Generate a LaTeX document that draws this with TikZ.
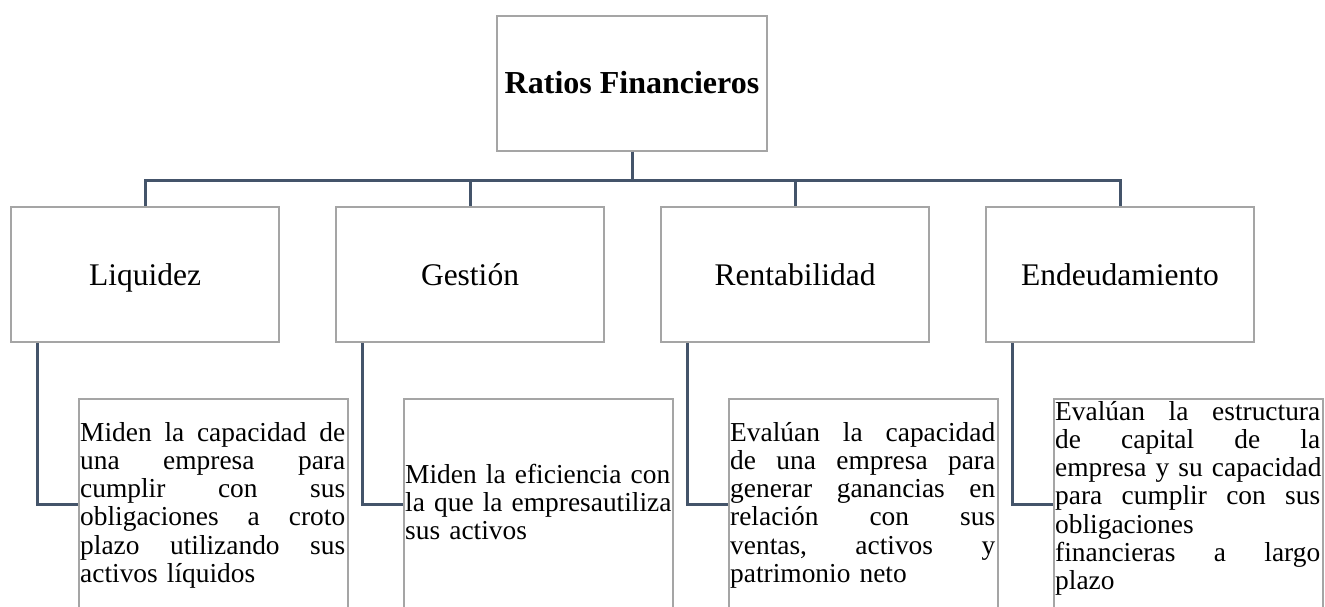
\documentclass[tikz,border=0pt]{standalone}
\usepackage{fontspec}
\setmainfont{Liberation Serif}
\definecolor{conncol}{HTML}{44546A}
\definecolor{boxcol}{HTML}{A5A5A5}
\newcommand{\Jl}[1]{\hbox to 265pt{#1}\par}
\newcommand{\Nl}[1]{\hbox{#1}\par}
\newcommand{\G}{\hfill\ }
\tikzset{
  box/.style={draw=boxcol, line width=1.6pt, fill=white, inner sep=0pt},
  topbox/.style={box, minimum width=270pt, minimum height=135pt, text height=26pt, text depth=7pt, font=\fontsize{32}{36}\selectfont\bfseries},
  midbox/.style={box, minimum width=268pt, minimum height=135pt, text height=28pt, text depth=7pt, font=\fontsize{31.5}{36}\selectfont},
  lowbox/.style={box, anchor=north west, minimum width=269pt, minimum height=260pt},
  desc/.style={anchor=base west, inner sep=0pt, text width=265pt, font=\fontsize{27.4}{28.3}\selectfont},
  conn/.style={draw=conncol, line width=3pt}
}
\begin{document}
\begin{tikzpicture}[x=1pt,y=-1pt]
\clip (0,0) rectangle (1325,606);
\fill[white] (0,0) rectangle (1325,606);
% nodes
\node[topbox] (top) at (632,83.5) {Ratios Financieros};
\node[midbox] (l1) at (145,274.5) {Liquidez};
\node[midbox] (l2) at (470,274.5) {Gestión};
\node[midbox] (l3) at (795,274.5) {Rentabilidad};
\node[midbox] (l4) at (1120,274.5) {Endeudamiento};
\node[lowbox] (b1) at (78,398) {};
\node[lowbox] (b2) at (403,398) {};
\node[lowbox] (b3) at (728,398) {};
\node[lowbox] (b4) at (1053,398) {};
\node[desc] (t1) at (80,441) {\Jl{Miden\G la\G capacidad\G de}\Jl{una\G empresa\G para}\Jl{cumplir\G con\G sus}\Jl{obligaciones\G a\G croto}\Jl{plazo\G utilizando\G sus}\Nl{activos líquidos}};
\node[desc] (t2) at (405,483) {\Jl{Miden\G la\G eficiencia\G con}\Jl{la\G que\G la\G empresautiliza}\Nl{sus activos}};
\node[desc] (t3) at (730,441) {\Jl{Evalúan\G la\G capacidad}\Jl{de\G una\G empresa\G para}\Jl{generar\G ganancias\G en}\Jl{relación\G con\G sus}\Jl{ventas,\G activos\G y}\Nl{patrimonio neto}};
\node[desc] (t4) at (1055,420) {\Jl{Evalúan\G la\G estructura}\Jl{de\G capital\G de\G la}\Jl{empresa\G y\G su\G capacidad}\Jl{para\G cumplir\G con\G sus}\Nl{obligaciones}\Jl{financieras\G a\G largo}\Nl{plazo}};
% connectors
\coordinate (bus) at (632,180);
\foreach \n in {l1,l2,l3,l4}{
  \draw[conn] (top.south) -- (bus) -| (\n.north);
}
\foreach \a/\b in {l1/b1,l2/b2,l3/b3,l4/b4}{
  \coordinate (\a s) at ([xshift=27pt]\a.south west);
  \coordinate (\b c) at ([yshift=-106pt]\b.north west);
  \draw[conn] (\a s) |- (\b c);
}
\end{tikzpicture}
\end{document}
